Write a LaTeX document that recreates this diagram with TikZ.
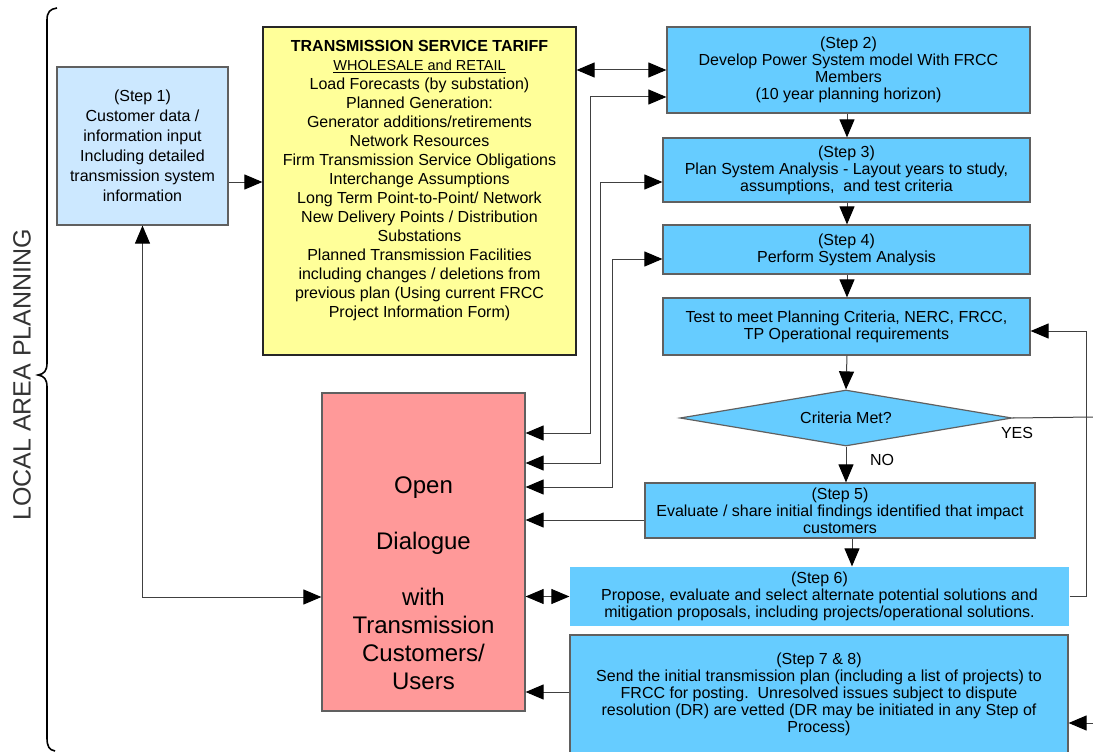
\documentclass[tikz,border=0pt]{standalone}
\usepackage{fontspec}
\setmainfont{Liberation Sans}
\usetikzlibrary{arrows.meta,shapes.geometric}
\definecolor{bluefill}{HTML}{66CCFF}
\definecolor{lightblue}{HTML}{CCE8FF}
\definecolor{yellowfill}{HTML}{FFFF99}
\definecolor{redfill}{HTML}{FF9999}
\definecolor{edgegray}{HTML}{606060}
\definecolor{linegray}{HTML}{404040}
\newcommand\bodyfont{\fontsize{16}{17}\selectfont}
\newcommand\stepfont{\fontsize{16}{20}\selectfont}
\newcommand\yellowfont{\fontsize{16}{19}\selectfont}
\newcommand\redfont{\fontsize{24}{28}\selectfont}
\tikzset{
  box/.style={draw=edgegray, line width=1.2pt, inner sep=0pt, align=center, font=\bodyfont},
  bluebox/.style={box, fill=bluefill},
  conn/.style={draw=linegray, line width=1pt},
  arr/.style={conn, -{Triangle[length=18pt,width=15pt,color=black]}},
  dblarr/.style={conn, {Triangle[length=18pt,width=15pt,color=black]}-{Triangle[length=18pt,width=15pt,color=black]}},
  lbl/.style={inner sep=0pt, font=\bodyfont}
}
\begin{document}
\begin{tikzpicture}[x=1pt,y=-1pt]
\useasboundingbox (0,0) rectangle (1093,752);
\clip (0,0) rectangle (1093,752);

% brace and side label
\draw[line width=1.6pt, black] (57,8) .. controls (50,9) and (47,12) .. (47,20) -- (47,363)
  .. controls (47,371) and (44,374) .. (38,375) .. controls (44,376) and (47,379) .. (47,387)
  -- (47,738) .. controls (47,746) and (49,750) .. (55,751);
\node[rotate=90, inner sep=0pt, font=\fontsize{25}{25}\selectfont, text=black!80] (side) at (22,375) {LOCAL AREA PLANNING};

% boxes
\node[box, fill=lightblue, minimum width=171pt, minimum height=158pt, font=\stepfont] (step1) at (142.5,146)
  {(Step 1)\\Customer data /\\information input\\Including detailed\\transmission system\\information};

\node[box, fill=yellowfill, draw=black!85, minimum width=313pt, minimum height=328pt] (yellow) at (419.5,191) {};
\node[align=center, inner sep=0pt, font=\yellowfont] (yellowtext) at (419.5,181)
  {\textbf{TRANSMISSION SERVICE TARIFF}\\
   {\fontsize{14.5}{19}\selectfont\underline{WHOLESALE and RETAIL}}\\
   Load Forecasts (by substation)\\
   Planned Generation:\\
   Generator additions/retirements\\
   Network Resources\\
   Firm Transmission Service Obligations\\
   Interchange Assumptions\\
   Long Term Point-to-Point/ Network\\
   New Delivery Points / Distribution\\
   Substations\\
   Planned Transmission Facilities\\
   including changes / deletions from\\
   previous plan (Using current FRCC\\
   Project Information Form)};

\node[bluebox, minimum width=363pt, minimum height=86pt] (step2) at (848.5,70)
  {(Step 2)\\Develop Power System model With FRCC\\Members\\(10 year planning horizon)};
\node[bluebox, minimum width=367pt, minimum height=64pt] (step3) at (846.5,170)
  {(Step 3)\\Plan System Analysis - Layout years to study,\\assumptions,\ \ and test criteria};
\node[bluebox, minimum width=367pt, minimum height=49pt] (step4) at (846.5,249.5)
  {(Step 4)\\Perform System Analysis};
\node[bluebox, minimum width=367pt, minimum height=57pt] (test) at (846.5,326.5)
  {Test to meet Planning Criteria, NERC, FRCC,\\TP Operational requirements};
\node[bluebox, shape=diamond, shape aspect=5.93, minimum width=332pt, minimum height=56pt] (crit) at (846,418) {Criteria Met?};
\node[bluebox, minimum width=390pt, minimum height=55pt] (step5) at (840,510.5)
  {(Step 5)\\Evaluate / share initial findings identified that impact\\customers};
\node[bluebox, draw=none, minimum width=499pt, minimum height=59pt] (step6) at (819.5,596.5)
  {(Step 6)\\Propose, evaluate and select alternate potential solutions and\\mitigation proposals, including projects/operational solutions.};
\node[bluebox, minimum width=498pt, minimum height=118pt] (step78) at (819,694)
  {(Step 7 \& 8)\\Send the initial transmission plan (including a list of projects) to\\FRCC for posting.\ \ Unresolved issues subject to dispute\\resolution (DR) are vetted (DR may be initiated in any Step of\\Process)};

\node[box, fill=redfill, minimum width=203pt, minimum height=318pt] (red) at (423.5,552) {};
\node[align=center, inner sep=0pt, font=\redfont] (redtext) at (423.5,583)
  {Open\\[28pt]Dialogue\\[28pt]with\\Transmission\\Customers/\\Users};

\node[lbl] (yes) at (1017,433) {YES};
\node[lbl] (no) at (882,460) {NO};

% helper coordinates
\coordinate (cx) at (847,0);
\coordinate (cx2) at (852,0);
\coordinate (ya) at (0,433);
\coordinate (yb) at (0,463);
\coordinate (yc) at (0,487);
\coordinate (yd) at (0,520);
\coordinate (ye) at (0,692);
\coordinate (yf) at (0,182);
\coordinate (yg) at (0,597);
\coordinate (yh) at (0,331);
\coordinate (k1) at (590,97);
\coordinate (k2) at (600,182);
\coordinate (k3) at (612,259);
\coordinate (lx) at (1086,0);
\coordinate (yesend) at (1093,417);
\coordinate (s78in) at (1093,723);

% connectors
\draw[arr] (step1.east |- yf) -- (yellow.west |- yf);
\draw[dblarr] (yellow.east |- step2.west) -- (step2.west);
\draw[arr] (step2.south -| cx) -- (step3.north -| cx);
\draw[arr] (step3.south -| cx) -- (step4.north -| cx);
\draw[arr] (step4.south -| cx) -- (test.north -| cx);
\draw[arr] (test.south -| cx) -- (crit.north);
\draw[arr] (crit.south) -- (step5.north -| crit.south);
\draw[arr] (step5.south -| cx2) -- (step6.north -| cx2);

\draw[dblarr] (red.east |- ya) -| (k1) -- (step2.west |- k1);
\draw[dblarr] (red.east |- yb) -| (k2) -- (step3.west |- k2);
\draw[dblarr] (red.east |- yc) -| (k3) -- (step4.west |- k3);
\draw[arr] (step5.west |- yd) -- (red.east |- yd);
\draw[dblarr] (red.east |- step6.west) -- (step6.west);
\draw[arr] (step78.west |- ye) -- (red.east |- ye);
\draw[dblarr] (step1.south) |- (red.west |- yg);

\draw[arr] (step6.east) -| (lx |- yh) -- (test.east |- yh);
\draw[conn] (crit.east) -- (yesend);
\draw[arr] (s78in) -- (step78.east |- s78in);
\end{tikzpicture}
\end{document}
